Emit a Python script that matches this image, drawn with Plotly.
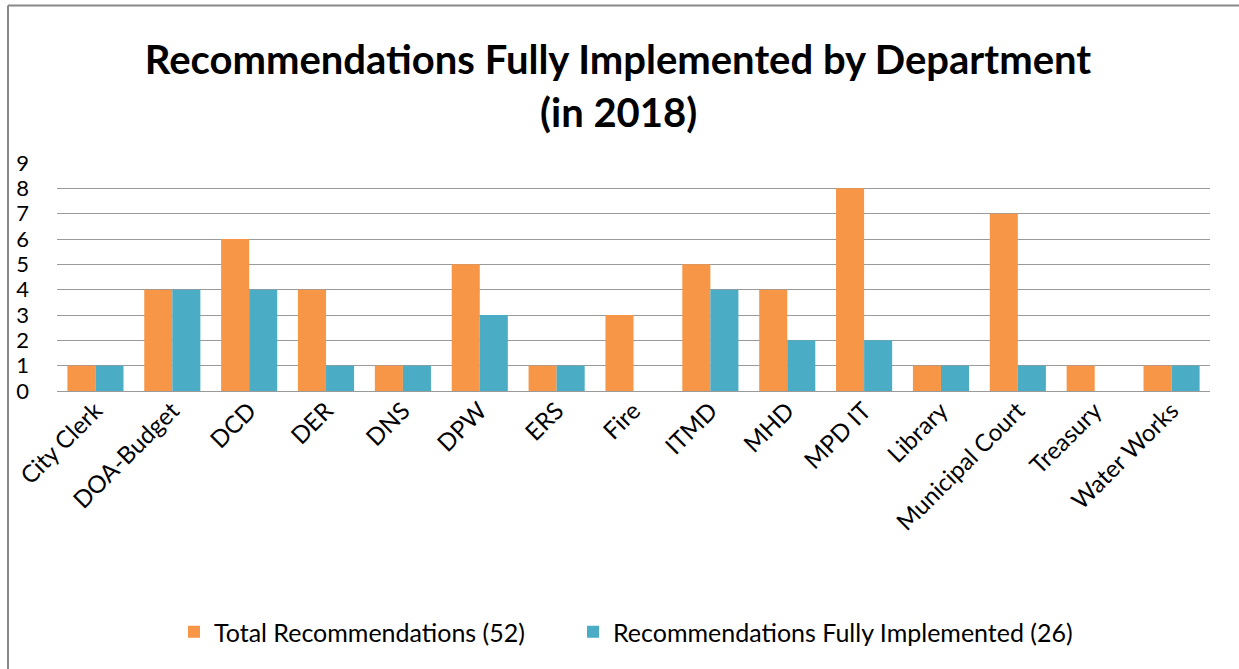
import plotly.graph_objects as go

departments = ["City Clerk", "DOA-Budget", "DCD", "DER", "DNS", "DPW", "ERS", "Fire",
               "ITMD", "MHD", "MPD IT", "Library", "Municipal Court", "Treasury", "Water Works"]
total_recs = [1, 4, 6, 4, 1, 5, 1, 3, 5, 4, 8, 1, 7, 1, 1]
fully_impl = [1, 4, 4, 1, 1, 3, 1, 0, 4, 2, 2, 1, 1, 0, 1]
y_ticks = list(range(0, 10))
title_line1 = "Recommendations Fully Implemented by Department"
title_line2 = "(in 2018)"

W, H = 1239, 669
PL, PR, PT, PB = 57, 1210, 163, 391          # plot area in window pixels
L, R, T, B = PL, W - PR, PT, H - PB
pw, ph = PR - PL, PB - PT

def px_x(x):
    return (x - PL) / pw

def px_y(y):
    return (PB - y) / ph

fig = go.Figure()
fig.add_trace(go.Bar(x=departments, y=total_recs, name="Total Recommendations (52)",
                     marker=dict(color="#F79646", line=dict(width=0)), legend="legend"))
fig.add_trace(go.Bar(x=departments, y=fully_impl, name="Recommendations Fully Implemented (26)",
                     marker=dict(color="#4BACC6", line=dict(width=0)), legend="legend2"))

font_family = "Lato, Carlito, Calibri, sans-serif"

fig.update_layout(
    width=W, height=H,
    margin=dict(l=L, r=R, t=T, b=B, pad=0),
    paper_bgcolor="white", plot_bgcolor="white",
    barmode="group", bargap=0.27, bargroupgap=0,
    font=dict(family=font_family, color="black"),
    title=dict(text="<b>" + title_line1 + "</b>",
               x=px_x(618), xref="paper", xanchor="center", y=1 - 60 / H, yanchor="middle",
               font=dict(size=40, family=font_family, color="black")),
    xaxis=dict(tickangle=-45, tickfont=dict(size=24), showgrid=False, showline=False,
               ticks="", automargin=False),
    yaxis=dict(range=[0, 9], tickvals=y_ticks, tickfont=dict(size=22), showgrid=True,
               gridcolor="#9A9A9A", gridwidth=1.3, zeroline=True, zerolinecolor="#9A9A9A",
               zerolinewidth=1.3, showline=False, ticks="", ticklabelstandoff=27,
               automargin=False),
    legend=dict(orientation="h", x=px_x(174), xanchor="left", y=px_y(632), yanchor="middle",
                font=dict(size=25)),
    legend2=dict(orientation="h", x=px_x(573), xanchor="left", y=px_y(632), yanchor="middle",
                 font=dict(size=25)),
    showlegend=True,
)

fig.add_annotation(text="<b>" + title_line2 + "</b>", xref="paper", yref="paper",
                   x=px_x(618), y=px_y(112), xanchor="center", yanchor="middle",
                   showarrow=False, font=dict(size=40, family=font_family, color="black"))

fig.add_shape(type="line", xref="paper", yref="paper",
              x0=px_x(8), x1=px_x(8), y0=px_y(5.5), y1=px_y(669),
              line=dict(color="#888888", width=2))
fig.add_shape(type="line", xref="paper", yref="paper",
              x0=px_x(8), x1=px_x(1239), y0=px_y(5.5), y1=px_y(5.5),
              line=dict(color="#888888", width=2))

fig.write_html("out.html", post_script="document.body.style.margin='0px';",
               config={"displayModeBar": False})
